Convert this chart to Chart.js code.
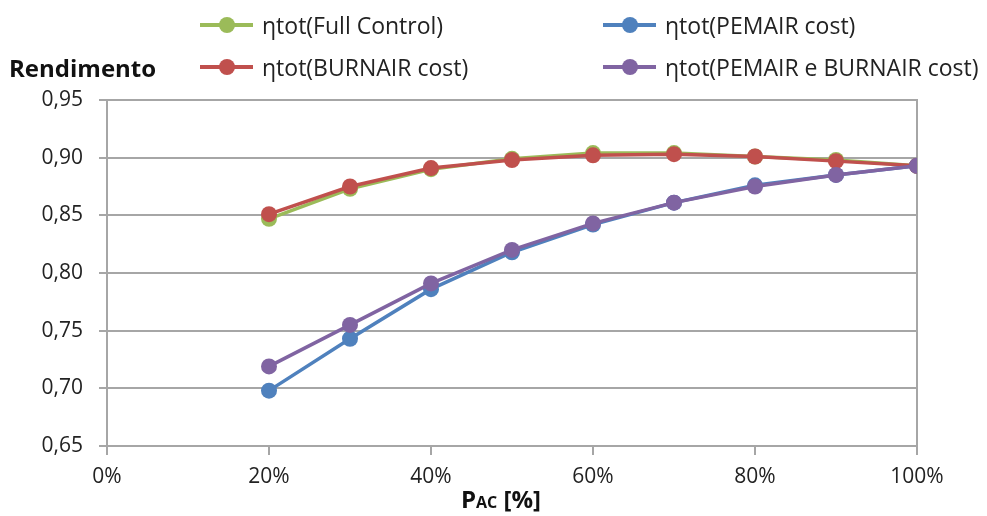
<!DOCTYPE html>
<html>
<head>
<meta charset="utf-8">
<script src="https://cdn.jsdelivr.net/npm/chart.js@4.4.1/dist/chart.umd.min.js"></script>
<style>
  body { margin: 0; background: #fff; font-family: 'Open Sans', sans-serif; }
  #wrap { position: relative; width: 987px; height: 516px; }
  canvas { position: absolute; left: 0; top: 0; }
  .legend-item { position: absolute; display: flex; align-items: center; font-size: 23px; color: #222; white-space: nowrap; }
  .swatch { position: relative; width: 53px; height: 4px; margin-right: 9px; }
  .swatch i { position: absolute; left: 19px; top: -6px; width: 16px; height: 16px; border-radius: 50%; }
  .ytitle { position: absolute; left: 9px; top: 51px; font-weight: bold; font-size: 24px; color: #111; }
  .xtitle { position: absolute; left: 461px; top: 482px; font-weight: bold; font-size: 24px; color: #111; }
  .xtitle span { font-size: 16px; }
</style>
</head>
<body>
<div id="wrap">
  <canvas id="effChart" width="987" height="516"></canvas>
  <div class="ytitle">Rendimento</div>
  <div class="xtitle">P<span>AC</span> [%]</div>
  <div id="legend"></div>
</div>
<script>
// Data
const loadPct = [20, 30, 40, 50, 60, 70, 80, 90, 100];
const etaFullControl = [0.847, 0.873, 0.890, 0.899, 0.904, 0.904, 0.901, 0.898, 0.893];
const etaPemairCost = [0.698, 0.743, 0.786, 0.818, 0.842, 0.861, 0.876, 0.885, 0.893];
const etaBurnairCost = [0.851, 0.875, 0.891, 0.898, 0.902, 0.903, 0.901, 0.897, 0.893];
const etaBothCost = [0.719, 0.755, 0.791, 0.820, 0.843, 0.861, 0.875, 0.885, 0.893];

const seriesNames = ['ηtot(Full Control)', 'ηtot(PEMAIR cost)', 'ηtot(BURNAIR cost)', 'ηtot(PEMAIR e BURNAIR cost)'];
const seriesColors = ['#9BBB59', '#4F81BD', '#C0504D', '#8064A2'];
const seriesValues = [etaFullControl, etaPemairCost, etaBurnairCost, etaBothCost];

const xTicks = [0, 20, 40, 60, 80, 100];
const yMin = 0.65, yMax = 0.95, yStep = 0.05;

const gridGray = '#A6A6A6';

function toPoints(values) {
    return loadPct.map((x, i) => ({ x: x, y: values[i] }));
}

// Legend (two columns, like the original)
const legendPos = [[200, 9], [603, 9], [200, 51], [603, 51]];
const legendBox = document.getElementById('legend');
seriesNames.forEach((name, i) => {
    const item = document.createElement('div');
    item.className = 'legend-item';
    item.style.left = legendPos[i][0] + 'px';
    item.style.top = legendPos[i][1] + 'px';
    item.innerHTML = '<div class="swatch" style="background:' + seriesColors[i] + '"><i style="background:' + seriesColors[i] + '"></i></div>' + name;
    legendBox.appendChild(item);
});

const datasets = seriesValues.map((vals, i) => ({
    label: seriesNames[i],
    data: toPoints(vals),
    borderColor: seriesColors[i],
    backgroundColor: seriesColors[i],
    borderWidth: 3.5,
    pointRadius: 8,
    pointBorderWidth: 0,
    pointHoverRadius: 8,
    tension: 0
}));
// draw order: green, blue below; red, purple on top
datasets[0].order = 4;
datasets[1].order = 3;
datasets[2].order = 2;
datasets[3].order = 1;

new Chart(document.getElementById('effChart'), {
    type: 'line',
    data: { datasets: datasets },
    options: {
        responsive: false,
        animation: false,
        layout: { padding: { top: 100, right: 70, bottom: 0, left: 0 } },
        plugins: {
            legend: { display: false },
            tooltip: { enabled: false }
        },
        scales: {
            x: {
                type: 'linear',
                min: 0,
                max: 100,
                afterBuildTicks: (scale) => { scale.ticks = xTicks.map(v => ({ value: v })); },
                afterFit: (scale) => { scale.height = 70; },
                ticks: {
                    callback: (v) => v + '%',
                    font: { family: 'Open Sans', size: 21 },
                    color: '#222',
                    padding: 9,
                    maxRotation: 0
                },
                grid: { drawOnChartArea: false, drawTicks: true, tickLength: 9, color: gridGray, lineWidth: 2 },
                border: { display: false }
            },
            y: {
                min: yMin,
                max: yMax,
                afterFit: (scale) => { scale.width = 107; },
                ticks: {
                    stepSize: yStep,
                    callback: (v) => v.toFixed(2).replace('.', ','),
                    font: { family: 'Open Sans', size: 21 },
                    color: '#222',
                    padding: 16
                },
                grid: { color: gridGray, lineWidth: 2, tickLength: 8 },
                border: { color: gridGray, width: 2 }
            },
            yRight: {
                position: 'right',
                min: yMin,
                max: yMax,
                afterFit: (scale) => { scale.width = 0; },
                ticks: { display: false },
                grid: { display: false },
                border: { color: gridGray, width: 2 }
            }
        }
    }
});
</script>
</body>
</html>
